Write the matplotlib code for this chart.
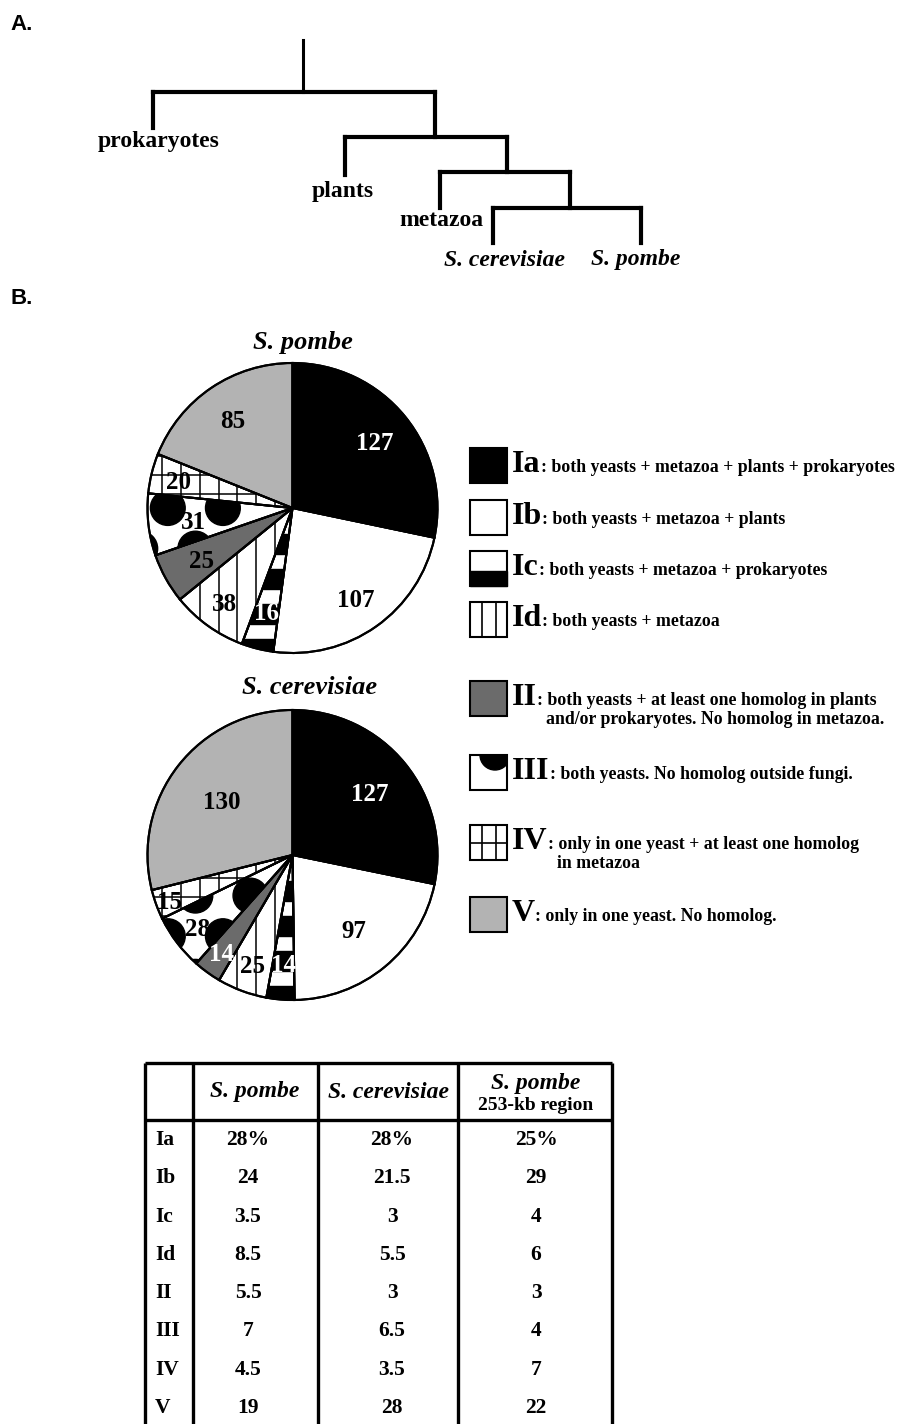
import numpy as np
import matplotlib
matplotlib.use('Agg')
import matplotlib.pyplot as plt
from matplotlib.patches import Rectangle, Circle, Wedge

plt.rcParams['font.family'] = 'Liberation Serif'
plt.rcParams['font.weight'] = 'bold'

# --- data ---
categories = ['Ia', 'Ib', 'Ic', 'Id', 'II', 'III', 'IV', 'V']
pombe_counts = [127, 107, 16, 38, 25, 31, 20, 85]
cerevisiae_counts = [127, 97, 14, 25, 14, 28, 15, 130]
pombe_pct = [28, 24, 3.5, 8.5, 5.5, 7, 4.5, 19]
cerevisiae_pct = [28, 21.5, 3, 5.5, 3, 6.5, 3.5, 28]
region_pct = [25, 29, 4, 6, 3, 4, 7, 22]
descriptions = [
    ': both yeasts + metazoa + plants + prokaryotes',
    ': both yeasts + metazoa + plants',
    ': both yeasts + metazoa + prokaryotes',
    ': both yeasts + metazoa',
    ': both yeasts + at least one homolog in plants\n  and/or prokaryotes. No homolog in metazoa.',
    ': both yeasts. No homolog outside fungi.',
    ': only in one yeast + at least one homolog\n  in metazoa',
    ': only in one yeast. No homolog.',
]
tree_taxa = ['prokaryotes', 'plants', 'metazoa', 'S. cerevisiae', 'S. pombe']

# --- styles ---
fills = ['black', 'white', 'white', 'white', '#6b6b6b', 'white', 'white', '#b3b3b3']
patterns = [None, None, 'stripes', 'vlines', None, 'dots', 'grid', None]
pombe_txt = ['white', 'black', 'white', 'black', 'black', 'black', 'black', 'black']
cerev_txt = ['white', 'black', 'white', 'black', 'white', 'black', 'black', 'black']
pombe_lr = [0.73, 0.76, 0.73, 0.80, 0.72, 0.69, 0.81, 0.74]
cerev_lr = [0.69, 0.66, 0.75, 0.80, 0.83, 0.82, 0.90, 0.62]

W, H = 905, 1424
R = 145  # pie radius in px
fig = plt.figure(figsize=(W / 100, H / 100), dpi=100)
fig.patch.set_facecolor('white')
ax = fig.add_axes([0, 0, 1, 1])
ax.set_xlim(0, W)
ax.set_ylim(H, 0)
ax.axis('off')

sans = dict(family='Liberation Sans', weight='bold', fontsize=16)
ax.text(10, 25, 'A.', va='center', **sans)
ax.text(10, 298, 'B.', va='center', **sans)

# --- A: tree ---
# (bar y, left x, right x, left tip y)
tree_nodes = [(92, 153, 435, 128), (137, 345, 507, 175),
              (172, 440, 570, 208), (208, 493, 641, 243)]
tree_label_xy = [(159, 142), (343, 192), (441, 220), (504, 260), (636, 260)]
ln = dict(color='black', lw=3, solid_capstyle='projecting')
ax.plot([303, 303], [40, 92], color='black', lw=2.2)
for i, (yb, xl, xr, yt) in enumerate(tree_nodes):
    ax.plot([xl, xr], [yb, yb], **ln)
    ax.plot([xl, xl], [yb, yt], **ln)
    y_next = tree_nodes[i + 1][0] if i + 1 < len(tree_nodes) else yt
    ax.plot([xr, xr], [yb, y_next], **ln)
for name, (x, y) in zip(tree_taxa, tree_label_xy):
    st = 'italic' if name.startswith('S.') else 'normal'
    ax.text(x, y, name, ha='center', va='center', fontsize=17, style=st)


# --- B: pies ---
def add_pattern(pax, wedge, kind):
    arts = []
    if kind == 'stripes':
        for y0 in np.arange(-1.04, 1.1, 0.24):
            arts.append(pax.add_patch(Rectangle((-1.1, y0), 2.2, 0.14,
                                                color='black', zorder=2)))
    if kind in ('vlines', 'grid'):
        arts.append(pax.vlines(np.arange(-1.03, 1.05, 0.13), -1.1, 1.1,
                               color='black', lw=1.1, zorder=2))
    if kind == 'grid':
        arts.append(pax.hlines(np.arange(-1.07, 1.1, 0.13), -1.1, 1.1,
                               color='black', lw=1.1, zorder=2))
    if kind == 'dots':
        for k in range(-4, 5):
            x0 = -0.86 if k % 2 == 0 else -0.67
            for j in range(-3, 5):
                px, py = x0 + 0.38 * j, -0.28 * k
                if np.hypot(px, py) < 0.3:
                    continue
                arts.append(pax.add_patch(Circle((px, py), 0.12,
                                                 color='black', zorder=2)))
    for a in arts:
        a.set_clip_path(wedge)


def draw_pie(cx, cy, counts, txt_colors, radii, title, tx, ty):
    s = 2.2 * R
    pax = fig.add_axes([(cx - s / 2) / W, (H - cy - s / 2) / H, s / W, s / H])
    wedges, _ = pax.pie(counts, colors=fills, startangle=90, counterclock=False,
                        wedgeprops=dict(edgecolor='black', linewidth=1.5))
    for w, kind in zip(wedges, patterns):
        if kind:
            add_pattern(pax, w, kind)
        pax.add_patch(Wedge(w.center, w.r, w.theta1, w.theta2, fill=False,
                            ec='black', lw=1.5, zorder=4))
    for w, n, c, r in zip(wedges, counts, txt_colors, radii):
        a = np.deg2rad((w.theta1 + w.theta2) / 2)
        pax.text(r * np.cos(a), r * np.sin(a), str(n), ha='center',
                 va='center_baseline', fontsize=18, color=c, zorder=5)
    pax.set_xlim(-1.1, 1.1)
    pax.set_ylim(-1.1, 1.1)
    pax.axis('off')
    ax.text(tx, ty, title, ha='center', va='center', fontsize=19, style='italic')


draw_pie(292.5, 508, pombe_counts, pombe_txt, pombe_lr, 'S. pombe', 303, 342)
draw_pie(292.5, 855, cerevisiae_counts, cerev_txt, cerev_lr, 'S. cerevisiae', 310, 688)

# --- legend ---
box_top = [448, 500, 551, 602, 681, 755, 825, 897]
bx, bw, bh = 470, 37, 35
renderer = fig.canvas.get_renderer()
for cat, desc, fc, kind, yt in zip(categories, descriptions, fills, patterns, box_top):
    box = Rectangle((bx, yt), bw, bh, fc=fc, ec='black', lw=1.5, zorder=3)
    ax.add_patch(box)
    if kind == 'stripes':
        ax.add_patch(Rectangle((bx, yt + bh * 0.57), bw, bh * 0.43, color='black', zorder=3))
    if kind in ('vlines', 'grid'):
        ax.vlines([bx + 11.5, bx + 26], yt, yt + bh, color='black', lw=1.2, zorder=3)
    if kind == 'grid':
        ax.hlines([yt + bh / 2], bx, bx + bw, color='black', lw=1.2, zorder=3)
    if kind == 'dots':
        c = Circle((bx + 25, yt), 15, color='black', zorder=3)
        ax.add_patch(c)
        c.set_clip_path(box)
    base = yt + 24
    t = ax.text(bx + 42, base, cat, fontsize=23, va='baseline')
    bb = t.get_window_extent(renderer)
    x1 = ax.transData.inverted().transform((bb.x1, bb.y0))[0]
    for k, line in enumerate(desc.split('\n')):
        ax.text(x1, base + 19 * k, line, fontsize=12.8, va='baseline')

# --- table ---
tl, tr, ttop, thead = 145, 612, 1063, 1120
col_lines = [193, 318, 458]
tk = dict(color='black', lw=2.4)
ax.hlines([ttop, thead], tl, tr, **tk)
ax.vlines([tl, tr] + col_lines, ttop, H, **tk)
ax.text(255, 1092, 'S. pombe', ha='center', va='center', fontsize=17, style='italic')
ax.text(388, 1092, 'S. cerevisiae', ha='center', va='center', fontsize=17, style='italic')
ax.text(536, 1083, 'S. pombe', ha='center', va='center', fontsize=17, style='italic')
ax.text(536, 1105, '253-kb region', ha='center', va='center', fontsize=14)

col_cx = [248, 392, 536]
for i, cat in enumerate(categories):
    y = 1140 + 38.3 * i
    ax.text(155, y, cat, ha='left', va='center', fontsize=15.5)
    for cxv, vals in zip(col_cx, [pombe_pct, cerevisiae_pct, region_pct]):
        s = f'{vals[i]:g}' + ('%' if i == 0 else '')
        ax.text(cxv, y, s, ha='center', va='center', fontsize=15.5)

fig.savefig('out.png', dpi=100, facecolor='white')
